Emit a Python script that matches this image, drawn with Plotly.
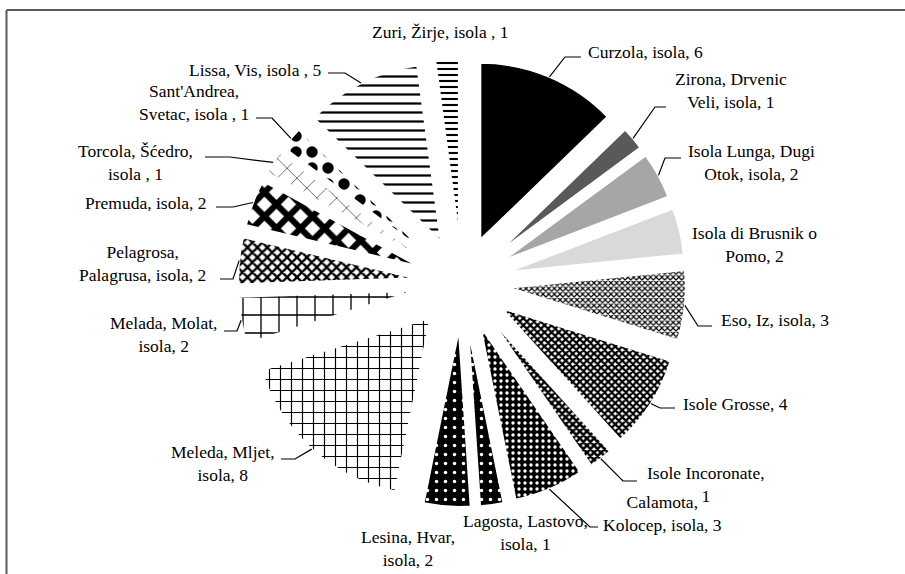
import math
import plotly.graph_objects as go

# ---- data ----
islands = ["Curzola", "Zirona", "Isola Lunga", "Isola di Brusnik o Pomo", "Eso",
           "Isole Grosse", "Isole Incoronate", "Calamota", "Lagosta", "Lesina",
           "Meleda", "Melada", "Pelagrosa", "Premuda", "Torcola", "Sant'Andrea",
           "Lissa", "Zuri"]
counts = [6, 1, 2, 2, 3, 4, 1, 3, 1, 2, 8, 2, 2, 2, 1, 1, 5, 1]
label_texts = ["Curzola, isola, 6", "Zirona, Drvenic<br>Veli, isola, 1",
               "Isola Lunga, Dugi<br>Otok, isola, 2", "Isola di Brusnik o<br>Pomo, 2",
               "Eso, Iz, isola, 3", "Isole Grosse, 4", "Isole Incoronate,<br>1",
               "Calamota,<br>Kolocep, isola, 3", "Lagosta, Lastovo,<br>isola, 1",
               "Lesina, Hvar,<br>isola, 2", "Meleda, Mljet,<br>isola, 8",
               "Melada, Molat,<br>isola, 2", "Pelagrosa,<br>Palagrusa, isola, 2",
               "Premuda, isola, 2", "Torcola, Šćedro,<br>isola , 1",
               "Sant'Andrea,<br>Svetac, isola , 1", "Lissa, Vis, isola , 5",
               "Zuri, Žirje, isola , 1"]

# ---- styles ----
W, H = 905, 574
colors = ["#000000", "#595959", "#a6a6a6", "#d9d9d9", "#ffffff", "#ffffff", "#ffffff",
          "#000000", "#000000", "#000000", "#ffffff", "#ffffff", "#ffffff", "#ffffff",
          "#ffffff", "#ffffff", "#ffffff", "#ffffff"]
pat_shape = ["", "", "", "", "x", "x", "x", ".", ".", ".", "+", "+", "x", "x", "x", ".", "-", "-"]
pat_fg = ["black", "black", "black", "black", "black", "black", "black", "white", "white",
          "white", "black", "black", "black", "black", "black", "black", "black", "black"]
pat_bg = ["black", "#595959", "#a6a6a6", "#d9d9d9", "white", "white", "white", "black",
          "black", "black", "white", "white", "white", "white", "white", "white", "white", "white"]
pat_size = [8, 8, 8, 8, 4, 5, 5, 6, 9, 9, 11, 18, 7, 17, 14, 16, 9, 6]
pat_sol = [0.3, 0.3, 0.3, 0.3, 0.5, 0.7, 0.75, 0.25, 0.12, 0.12, 0.2, 0.14, 0.55, 0.6, 0.08, 0.4, 0.25, 0.35]
pull_frac = 0.265
label_font = dict(family="Liberation Serif", size=17.5, color="black")

# label layout (pixel positions of label centres, leader elbow and end)
label_pos = [(645, 52), (731, 90), (751, 162), (754, 244), (775, 320), (735, 404),
             (706, 484), (662, 513), (525, 532), (408, 548), (223, 463), (163, 334),
             (142, 263), (146, 203), (135, 162), (194, 103), (255, 70), (440, 32)]
leaders = [((565, 57), (581, 57)), ((655, 107), (666, 107)), ((665, 158), (681, 158)), None,
           ((698, 326), (712, 326)), ((660, 408), (675, 408)), ((623, 481), (637, 481)),
           ((590, 527), (598, 527)), None, None, ((295, 459), (281, 459)),
           ((237, 331), (224, 331)), ((233, 279), (220, 279)), ((233, 207), (216, 207)),
           ((230, 157), (205, 157)), ((272, 118), (256, 118)), ((345, 73), (328, 73)), None]

cx_px, cy_px, half_px = 462, 283, 224
dom_x = [(cx_px - 272) / W, (cx_px + 272) / W]
dom_y = [1 - (cy_px + half_px) / H, 1 - (cy_px - half_px) / H]


def px(x):
    return x / W


def py(y):
    return 1 - y / H


fig = go.Figure(go.Pie(
    labels=islands, values=counts, sort=False, direction="clockwise", rotation=0,
    pull=[pull_frac] * len(counts), textinfo="none", hoverinfo="label+value",
    showlegend=False, domain=dict(x=dom_x, y=dom_y),
    marker=dict(colors=colors, line=dict(color="white", width=2),
                pattern=dict(shape=pat_shape, fgcolor=pat_fg, bgcolor=pat_bg,
                             size=pat_size, solidity=pat_sol, fillmode="replace")),
))

total = sum(counts)
cum = 0
shapes = []
annotations = []
for i, v in enumerate(counts):
    mid = 2 * math.pi * (cum + v / 2) / total
    cum += v
    ax = cx_px + half_px * math.sin(mid)
    ay = cy_px - half_px * math.cos(mid)
    if leaders[i] is not None:
        (ex, ey), (hx, hy) = leaders[i]
        shapes.append(dict(type="path", xref="paper", yref="paper",
                           path=f"M {px(ax)},{py(ay)} L {px(ex)},{py(ey)} L {px(hx)},{py(hy)}",
                           line=dict(color="black", width=1.2)))
    lx, ly = label_pos[i]
    annotations.append(dict(x=px(lx), y=py(ly), xref="paper", yref="paper",
                            text=label_texts[i], showarrow=False, xanchor="center",
                            yanchor="middle", align="center", font=label_font))

# outer border (only top and left edges are visible in the frame)
border = dict(color="#5a5a5a", width=2)
shapes.append(dict(type="line", xref="paper", yref="paper", x0=px(6.5), y0=py(10),
                   x1=1.0, y1=py(10), line=border))
shapes.append(dict(type="line", xref="paper", yref="paper", x0=px(6.5), y0=py(10),
                   x1=px(6.5), y1=0.0, line=border))

fig.update_layout(width=W, height=H, margin=dict(l=0, r=0, t=0, b=0),
                  paper_bgcolor="white", plot_bgcolor="white",
                  shapes=shapes, annotations=annotations)
fig.write_html("out.html", config={"displayModeBar": False},
               post_script="document.body.style.margin='0';document.body.style.overflow='hidden';")
